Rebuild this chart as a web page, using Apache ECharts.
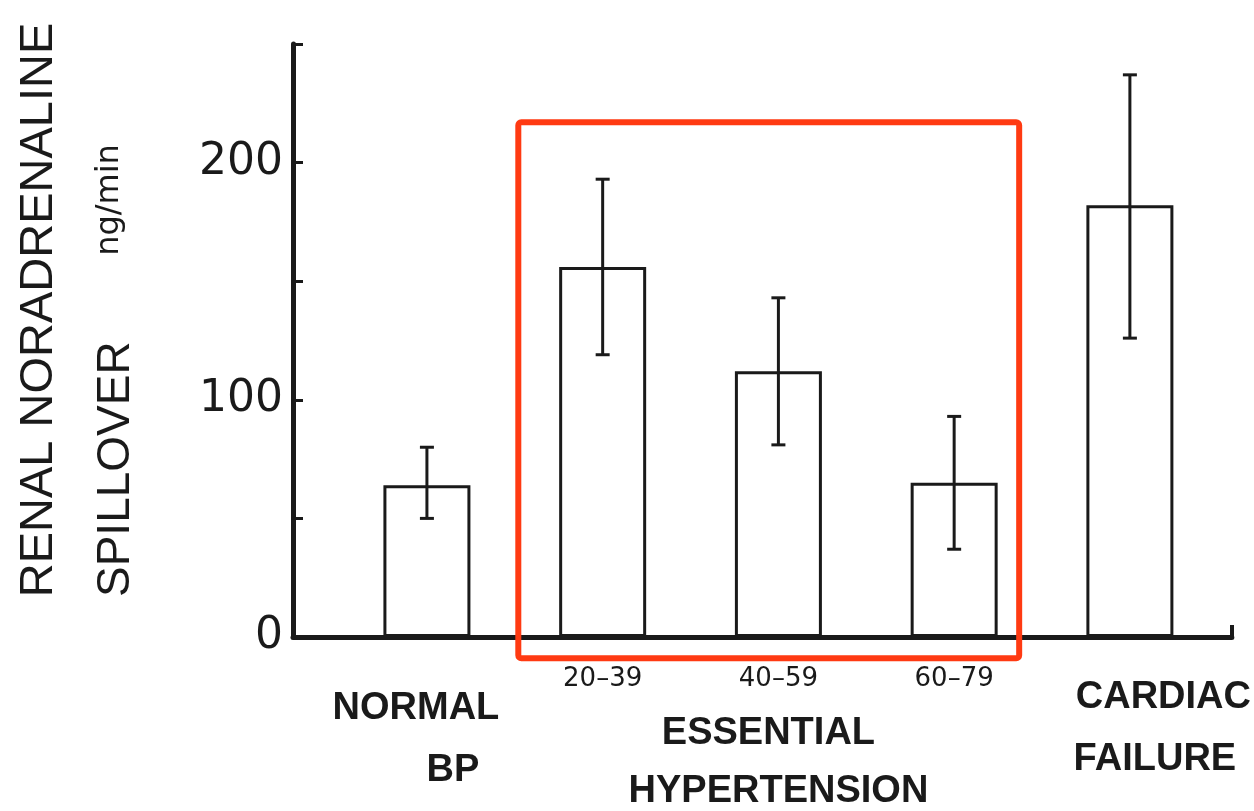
<!DOCTYPE html>
<html>
<head>
<meta charset="utf-8">
<script src="https://cdn.jsdelivr.net/npm/echarts@6/dist/echarts.min.js"></script>
<style>
  html, body { margin: 0; padding: 0; background: #fff; }
  #chart { width: 1254px; height: 811px; }
</style>
</head>
<body>
<div id="chart"></div>
<script>
// values (ng/min)
const groups = ['NORMAL BP', '20–39', '40–59', '60–79', 'CARDIAC FAILURE'];
const groupPos = [0, 1, 2, 3, 4];
const means = [64, 156, 112, 65, 182];
const errLow = [50, 119, 81, 37, 126];
const errHigh = [80, 193, 143, 93, 237];
const yLabelValues = [0, 100, 200];
// red highlight box around the essential hypertension groups
const boxX = [0.52, 3.37];
const boxY = [-9, 217];

const ink = '#1a1a1a';
const chart = echarts.init(document.getElementById('chart'));

const labelText = [
    '{sp1| }\n{n|NORMAL}\n{bp|BP}',
    '{s|' + groups[1] + '}',
    '{s|' + groups[2] + '}\n{sp2| }\n{e|ESSENTIAL}\n{e2|HYPERTENSION}',
    '{s|' + groups[3] + '}',
    '{sp3| }\n{c|CARDIAC}\n{f|FAILURE}'
];

const bold = { fontFamily: 'Liberation Sans', fontWeight: 'bold', fontSize: 38, color: ink };

const option = {
    animation: false,
    backgroundColor: '#fff',
    grid: { left: 293, right: 22, top: 44, bottom: 173 },
    xAxis: {
        type: 'value',
        min: -0.762,
        max: 4.58,
        splitLine: { show: false },
        axisLine: { onZero: false, lineStyle: { color: ink, width: 5 } },
        axisTick: {
            show: true,
            inside: true,
            length: 12,
            customValues: [4.58],
            lineStyle: { color: ink, width: 4 }
        },
        axisLabel: {
            customValues: groupPos,
            margin: 27,
            formatter: v => labelText[Math.round(v)],
            rich: {
                s: { fontFamily: 'DejaVu Sans', fontSize: 26, lineHeight: 30, color: ink },
                sp1: { fontSize: 1, lineHeight: 14 },
                sp2: { fontSize: 1, lineHeight: 11 },
                sp3: { fontSize: 1, lineHeight: 3 },
                n: Object.assign({}, bold, { lineHeight: 62, padding: [0, 22, 0, 0] }),
                bp: Object.assign({}, bold, { lineHeight: 62, padding: [0, 0, 0, 52] }),
                e: Object.assign({}, bold, { lineHeight: 58, padding: [0, 20, 0, 0] }),
                e2: Object.assign({}, bold, { lineHeight: 58 }),
                c: Object.assign({}, bold, { lineHeight: 62, padding: [0, 0, 0, 67] }),
                f: Object.assign({}, bold, { lineHeight: 62, padding: [0, 0, 0, 50] })
            }
        }
    },
    yAxis: {
        type: 'value',
        min: 0,
        max: 250,
        interval: 50,
        splitLine: { show: false },
        axisLine: { show: true, onZero: false, lineStyle: { color: ink, width: 5 } },
        axisTick: { show: true, inside: true, length: 10, lineStyle: { color: ink, width: 3 } },
        axisLabel: {
            customValues: yLabelValues,
            margin: 10,
            padding: [0, 0, 22, 0],
            color: ink,
            fontFamily: 'DejaVu Sans',
            fontSize: 44
        }
    },
    graphic: [
        {
            type: 'text',
            x: 39, y: 310,
            rotation: Math.PI / 2,
            style: {
                text: 'RENAL NORADRENALINE',
                font: '47px "Liberation Sans"',
                fill: ink,
                textAlign: 'center',
                textVerticalAlign: 'middle'
            }
        },
        {
            type: 'text',
            x: 116, y: 597,
            rotation: Math.PI / 2,
            style: {
                text: 'SPILLOVER',
                font: '46px "Liberation Sans"',
                fill: ink,
                textAlign: 'left',
                textVerticalAlign: 'middle'
            }
        },
        {
            type: 'text',
            x: 110, y: 200,
            rotation: Math.PI / 2,
            style: {
                text: 'ng/min',
                font: '32px "DejaVu Sans"',
                fill: ink,
                textAlign: 'center',
                textVerticalAlign: 'middle'
            }
        }
    ],
    series: [
        {
            name: 'mean',
            type: 'bar',
            barWidth: 87,
            z: 2,
            data: groupPos.map((x, i) => [x, means[i]]),
            itemStyle: { color: '#fff', borderColor: ink, borderWidth: 3 }
        },
        {
            name: 'error',
            type: 'custom',
            z: 5,
            data: groupPos.map((x, i) => [x, errLow[i], errHigh[i]]),
            encode: { x: 0, y: [1, 2] },
            renderItem: (params, api) => {
                const x = api.value(0);
                const lo = api.coord([x, api.value(1)]);
                const hi = api.coord([x, api.value(2)]);
                const cap = 7;
                const style = { stroke: ink, lineWidth: 3 };
                return {
                    type: 'group',
                    children: [
                        { type: 'line', shape: { x1: lo[0], y1: lo[1], x2: hi[0], y2: hi[1] }, style },
                        { type: 'line', shape: { x1: hi[0] - cap, y1: hi[1], x2: hi[0] + cap, y2: hi[1] }, style },
                        { type: 'line', shape: { x1: lo[0] - cap, y1: lo[1], x2: lo[0] + cap, y2: lo[1] }, style }
                    ]
                };
            }
        },
        {
            name: 'highlight',
            type: 'custom',
            clip: false,
            z: 10,
            data: [[boxX[0], boxX[1], boxY[0], boxY[1]]],
            encode: { x: [0, 1], y: [2, 3] },
            renderItem: (params, api) => {
                const a = api.coord([api.value(0), api.value(3)]);
                const b = api.coord([api.value(1), api.value(2)]);
                return {
                    type: 'rect',
                    shape: { x: a[0], y: a[1], width: b[0] - a[0], height: b[1] - a[1], r: 3 },
                    style: { fill: 'none', stroke: '#ff3a12', lineWidth: 6 }
                };
            }
        }
    ]
};

chart.setOption(option);
</script>
</body>
</html>
